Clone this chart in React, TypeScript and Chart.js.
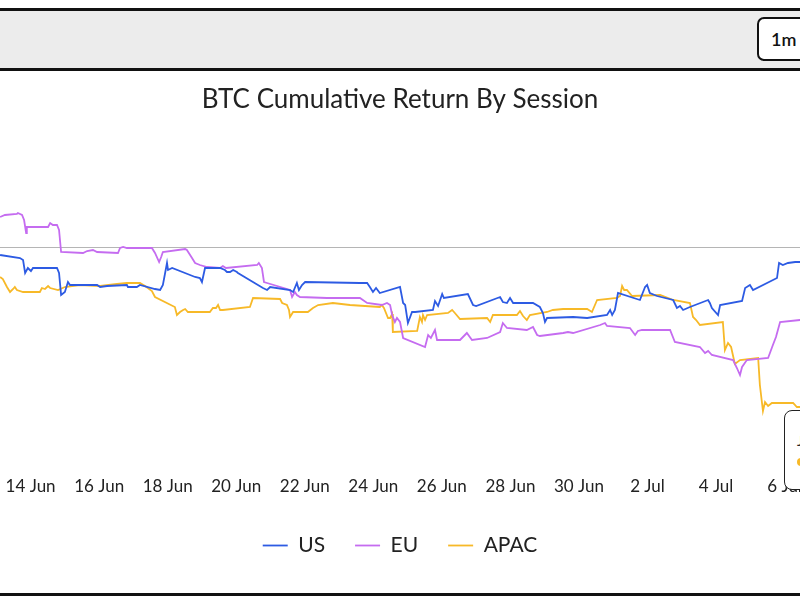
import React, { useEffect, useRef } from "react";
import { Chart, registerables } from "chart.js";
Chart.register(...registerables);

// x = day of June (32 = 2 Jul), y = cumulative return %
const usSeries: [number, number][] = [
  [13.11,-0.40],[13.69,-0.55],[13.78,-0.65],[13.84,-1.30],[13.92,-1.05],[14.01,-1.20],[14.07,-1.05],[14.77,-1.05],[14.83,-1.30],[14.89,-2.40],
  [15.00,-2.25],[15.09,-1.75],[15.15,-1.90],[15.94,-1.90],[16.03,-2.00],[16.23,-1.95],[16.81,-1.90],[16.84,-2.00],[17.10,-2.00],[17.19,-1.90],
  [17.63,-2.10],[17.78,-2.15],[17.86,-1.90],[17.98,-0.80],[18.01,-1.15],[18.13,-1.05],[18.80,-1.50],[18.94,-1.55],[19.00,-1.75],[19.09,-1.05],
  [19.53,-1.05],[19.67,-1.15],[19.73,-1.25],[19.82,-1.25],[19.91,-1.15],[20.02,-1.25],[20.05,-1.30],[20.78,-2.05],[20.90,-2.15],[20.99,-2.00],
  [21.57,-2.15],[21.66,-2.25],[21.77,-1.80],[21.83,-2.15],[21.92,-1.90],[22.01,-1.75],[23.61,-1.80],[23.82,-1.80],[23.90,-2.00],[23.99,-2.25],
  [24.08,-2.05],[24.19,-2.30],[24.78,-2.00],[24.87,-2.80],[24.93,-2.90],[25.01,-3.80],[25.13,-3.25],[25.22,-3.25],[25.74,-3.15],[25.80,-2.70],
  [25.89,-2.95],[26.01,-2.35],[26.06,-2.55],[26.76,-2.35],[26.91,-2.90],[27.00,-2.95],[27.70,-2.50],[27.78,-2.75],[27.90,-2.80],[27.99,-2.55],
  [28.08,-2.80],[28.66,-2.80],[28.86,-3.00],[28.95,-3.30],[29.01,-3.75],[29.07,-3.55],[29.83,-3.50],[30.24,-3.55],[30.82,-3.40],[30.91,-3.15],
  [30.97,-3.40],[31.05,-3.15],[31.14,-2.30],[31.78,-2.65],[31.93,-2.00],[31.99,-1.90],[32.07,-2.30],[32.28,-2.45],[32.75,-2.65],[32.86,-3.05],
  [32.95,-2.95],[33.04,-3.15],[33.24,-3.00],[33.77,-2.65],[33.82,-2.80],[33.88,-3.05],[34.06,-3.40],[34.12,-2.90],[34.76,-2.70],[34.85,-2.05],
  [34.99,-1.90],[35.08,-2.15],[35.78,-1.55],[35.84,-0.80],[35.95,-0.90],[36.10,-0.80],[36.31,-0.75],[36.45,-0.75],[36.80,-0.70],
];

const euSeries: [number, number][] = [
  [13.11,1.50],[13.25,1.60],[13.60,1.65],[13.63,1.70],[13.75,1.60],[13.81,1.35],[13.87,0.70],[13.89,1.00],[14.51,1.00],[14.57,1.20],
  [14.65,1.10],[14.77,1.10],[14.83,0.85],[14.89,-0.25],[15.53,-0.30],[15.65,-0.20],[15.82,-0.15],[15.94,-0.25],[16.55,-0.30],[16.61,-0.05],
  [16.70,0.00],[16.81,-0.05],[17.54,-0.05],[17.63,-0.30],[17.75,-0.75],[17.81,-0.50],[17.86,-0.25],[18.51,-0.10],[18.56,-0.15],[18.71,-0.55],
  [18.80,-0.80],[18.94,-0.90],[19.15,-1.00],[19.53,-1.05],[19.61,-0.95],[19.70,-1.05],[20.61,-0.90],[20.66,-0.80],[20.75,-1.05],[20.81,-1.75],
  [20.90,-1.80],[21.57,-2.15],[21.63,-2.50],[21.71,-2.25],[21.77,-2.40],[21.86,-2.50],[22.65,-2.55],[23.61,-2.55],[23.82,-2.80],[24.25,-2.90],
  [24.40,-2.80],[24.49,-2.90],[24.55,-3.40],[24.63,-3.75],[24.69,-3.55],[24.78,-3.75],[24.87,-4.55],[25.51,-5.00],[25.60,-4.40],[25.68,-4.55],
  [25.80,-4.15],[25.86,-4.65],[26.53,-4.65],[26.73,-4.30],[26.88,-4.65],[27.32,-4.55],[27.70,-4.25],[27.78,-3.80],[27.90,-4.05],[28.48,-4.15],
  [28.66,-4.00],[28.78,-4.40],[28.86,-4.45],[29.54,-4.30],[29.68,-4.25],[29.83,-4.30],[30.62,-3.90],[30.76,-3.80],[30.82,-3.95],[31.49,-4.05],
  [31.64,-4.40],[31.72,-4.20],[31.84,-4.15],[32.66,-4.15],[32.80,-4.75],[33.53,-5.00],[33.68,-5.30],[33.77,-5.20],[33.88,-5.40],[34.50,-5.65],
  [34.61,-6.05],[34.70,-6.40],[34.76,-6.00],[34.90,-5.65],[35.52,-5.55],[35.66,-4.90],[35.75,-4.50],[35.87,-3.75],[36.45,-3.65],[36.80,-3.60],
];

const apacSeries: [number, number][] = [
  [13.11,-1.50],[13.19,-1.60],[13.31,-2.00],[13.40,-2.25],[13.49,-2.10],[13.54,-2.00],[13.60,-2.15],[13.78,-2.25],[14.27,-2.25],[14.33,-2.05],
  [14.42,-2.10],[14.51,-1.95],[14.57,-2.05],[14.80,-2.15],[15.00,-2.00],[15.21,-1.95],[15.44,-1.90],[16.03,-1.95],[16.52,-1.85],[16.81,-1.80],
  [17.19,-1.80],[17.34,-1.95],[17.54,-2.20],[17.63,-2.50],[18.21,-3.00],[18.27,-3.40],[18.36,-3.25],[18.45,-3.15],[18.51,-3.10],[18.59,-3.25],
  [19.23,-3.25],[19.32,-3.05],[19.41,-3.05],[19.47,-2.90],[19.53,-3.15],[19.61,-3.15],[20.40,-3.00],[20.49,-2.55],[21.28,-2.60],[21.34,-2.80],
  [21.48,-2.90],[21.54,-3.15],[21.57,-3.50],[21.66,-3.25],[22.09,-3.25],[22.24,-3.05],[22.39,-2.90],[22.82,-2.80],[23.32,-2.90],[24.19,-3.00],
  [24.25,-2.90],[24.31,-3.05],[24.43,-3.55],[24.49,-3.55],[24.55,-3.35],[24.57,-4.25],[25.28,-4.20],[25.36,-3.50],[25.42,-3.75],[25.45,-3.40],
  [25.51,-3.65],[25.57,-3.40],[26.18,-3.30],[26.30,-3.15],[26.38,-3.30],[26.53,-3.60],[27.32,-3.55],[27.41,-3.75],[27.49,-3.40],[28.19,-3.40],
  [28.28,-3.20],[28.37,-3.45],[28.48,-3.65],[28.57,-3.40],[29.07,-3.25],[29.24,-3.15],[29.54,-3.10],[30.24,-3.10],[30.38,-3.25],[30.53,-2.65],
  [31.11,-2.55],[31.20,-2.45],[31.26,-1.95],[31.32,-2.15],[31.40,-2.15],[31.55,-2.45],[32.37,-2.40],[32.75,-2.65],[33.24,-2.80],[33.33,-3.50],
  [33.42,-3.65],[33.53,-3.90],[34.20,-3.75],[34.26,-5.15],[34.35,-4.80],[34.44,-5.00],[34.55,-5.85],[34.70,-5.65],[35.23,-5.55],[35.28,-6.90],
  [35.37,-8.20],[35.43,-7.75],[35.52,-7.95],[35.63,-7.80],[36.25,-7.80],[36.36,-8.00],[36.45,-8.00],[36.80,-8.00],
];

const seriesNames = ["US", "EU", "APAC"];
const seriesColors = ["#2d5be3", "#c56cf0", "#f7b928"];
const tickDays = [14, 16, 18, 20, 22, 24, 26, 28, 30, 32, 34, 36];
const titleText = "BTC Cumulative Return By Session";
const rangeLabel = "1m";
const tooltipTitle = "Jul 6";
const tooltipItem = "APAC: -8.00%";

const dayLabel = (d: number) => (d <= 30 ? `${d} Jun` : `${d - 30} Jul`);

const FONT = "Lato, 'Open Sans', sans-serif";

export default function App() {
  const ref = useRef<HTMLCanvasElement | null>(null);
  useEffect(() => {
    if (!ref.current) return;
    const data = [usSeries, euSeries, apacSeries];
    const chart = new Chart(ref.current, {
      type: "line",
      data: {
        datasets: data.map((s, i) => ({
          label: seriesNames[i],
          data: s.map(([x, y]) => ({ x, y })),
          borderColor: seriesColors[i],
          backgroundColor: seriesColors[i],
          borderWidth: 1.8,
          pointRadius: 0,
          tension: 0,
        })),
      },
      options: {
        animation: false,
        responsive: true,
        maintainAspectRatio: false,
        layout: { padding: { left: 0, right: 0, top: 0, bottom: 27 } },
        plugins: {
          title: {
            display: true,
            text: titleText,
            color: "#222",
            font: { family: FONT, size: 26, weight: "normal" },
            padding: { top: 13, bottom: 20 },
          },
          legend: {
            position: "bottom",
            labels: {
              usePointStyle: true,
              pointStyle: "line",
              pointStyleWidth: 25,
              color: "#222",
              font: { family: FONT, size: 21 },
              padding: 30,
            },
          },
          tooltip: { enabled: false },
        },
        scales: {
          x: {
            type: "linear",
            min: 12.611,
            max: 36.947,
            grid: { display: false, drawTicks: false },
            border: { display: false },
            afterBuildTicks: (scale: any) => {
              scale.ticks = tickDays.map((v) => ({ value: v }));
            },
            afterFit: (scale: any) => {
              scale.height += 5;
            },
            ticks: {
              autoSkip: false,
              maxRotation: 0,
              color: "#222",
              font: { family: FONT, size: 17 },
              callback: (v: any) => dayLabel(Number(v)),
            },
          },
          y: {
            min: -11.33,
            max: 5.59,
            border: { display: false },
            grid: {
              drawTicks: false,
              color: (ctx: any) => (ctx.tick && ctx.tick.value === 0 ? "#b5b5b5" : "rgba(0,0,0,0)"),
            },
            afterBuildTicks: (scale: any) => {
              scale.ticks = [{ value: 0 }];
            },
            ticks: { display: false },
          },
        },
      },
    });
    return () => chart.destroy();
  }, []);

  return (
    <div style={{ position: "fixed", inset: 0, overflow: "hidden", background: "#fff", fontFamily: FONT }}>
      <div
        style={{
          position: "absolute",
          left: -20,
          top: 8,
          width: 840,
          height: 588,
          border: "3px solid #111",
          boxSizing: "border-box",
          background: "#fff",
        }}
      >
        <div
          style={{
            height: 57,
            background: "#ececec",
            borderBottom: "3px solid #111",
            position: "relative",
          }}
        >
          <div
            style={{
              position: "absolute",
              left: 774,
              top: 6,
              width: 60,
              height: 40,
              border: "2px solid #111",
              borderRadius: 7,
              background: "#fff",
              fontSize: 18,
              fontWeight: 600,
              color: "#111",
              lineHeight: "40px",
              paddingLeft: 12,
              boxSizing: "content-box",
            }}
          >
            {rangeLabel}
          </div>
        </div>
        <div style={{ position: "relative", width: 834, height: 522 }}>
          <canvas ref={ref} />
          <div
            style={{
              position: "absolute",
              left: 801,
              top: 339,
              width: 130,
              height: 80,
              border: "1.5px solid #222",
              borderRadius: 8,
              background: "#fff",
              boxSizing: "border-box",
              padding: "20px 12px",
              fontSize: 14,
              color: "#222",
              lineHeight: "20px",
            }}
          >
            <div>{tooltipTitle}</div>
            <div>
              <span style={{ display: "inline-block", width: 8, height: 8, borderRadius: 4, background: seriesColors[2], marginRight: 6 }} />
              {tooltipItem}
            </div>
          </div>
        </div>
      </div>
    </div>
  );
}
